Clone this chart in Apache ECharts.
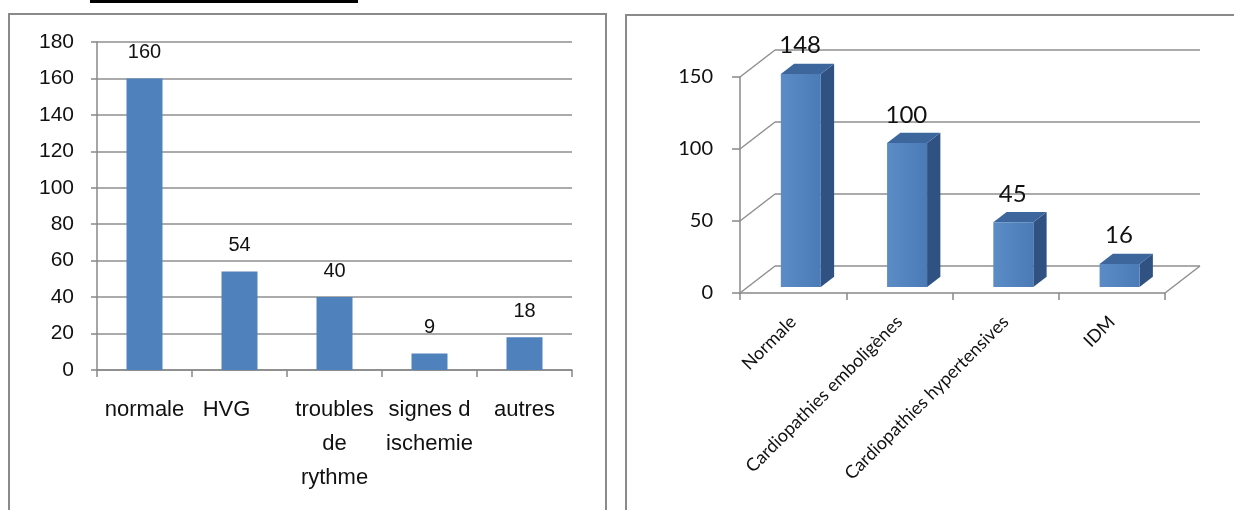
<!DOCTYPE html>
<html><head><meta charset="utf-8">
<script src="https://cdn.jsdelivr.net/npm/echarts@6/dist/echarts.min.js"></script>
<style>html,body{margin:0;padding:0;background:#fff}#c{width:1234px;height:510px}</style>
</head><body><div id="c"></div>
<script>
// ---- data ----
const leftCategories = ['normale', 'HVG', 'troubles\nde\nrythme', 'signes d\nischemie', 'autres'];
const leftValues = [160, 54, 40, 9, 18];
const leftYMin = 0, leftYMax = 180, leftYInterval = 20;

const rightCategories = ['Normale', 'Cardiopathies emboligènes', 'Cardiopathies hypertensives', 'IDM'];
const rightValues = [148, 100, 45, 16];
const rightYTicks = [0, 50, 100, 150];
const rightYMin = 0, rightYMax = 150, rightYInterval = 50;

// ---- style / geometry ----
const DX = 35, DY = -27;          // 3D depth offset of back wall
const D0 = 0.22, D1 = 0.6;        // bar depth range (fraction of depth)
const HALF = 20;                  // half width of 3D bar front face
const BLUE = '#4F81BD', SIDE = '#2F5283', TOP = '#3D679C';
const GRID_C = '#8f8f8f';
const fontL = '"Liberation Sans", Arial, sans-serif';
const fontR = 'Lato, "Open Sans", sans-serif';

const chart = echarts.init(document.getElementById('c'), null, {renderer: 'canvas'});

function renderBar3D(params, api) {
  const i = api.value(0), v = api.value(1);
  const base = api.coord([i, 0]);
  const top = api.coord([i, v]);
  const cx = base[0];
  const ox = DX * D0, oy = DY * D0;
  const bx = DX * (D1 - D0), by = DY * (D1 - D0);
  const x0 = cx + ox - HALF, x1 = cx + ox + HALF;
  const yb = base[1] + oy, yt = top[1] + oy;
  return {
    type: 'group',
    children: [
      {type: 'polygon', shape: {points: [[x1, yb], [x1 + bx, yb + by], [x1 + bx, yt + by], [x1, yt]]}, style: {fill: SIDE}},
      {type: 'polygon', shape: {points: [[x0, yt], [x1, yt], [x1 + bx, yt + by], [x0 + bx, yt + by]]}, style: {fill: TOP}},
      {type: 'rect', shape: {x: x0, y: yt, width: x1 - x0, height: yb - yt},
        style: {fill: new echarts.graphic.LinearGradient(0, 0, 1, 0, [{offset: 0, color: '#5B8CC6'}, {offset: 1, color: '#4A7BB7'}])}},
      {type: 'text', style: {text: String(v), x: cx + 7, y: yt + by - 18, align: 'center', verticalAlign: 'middle',
        font: '24px ' + fontR, fill: '#111'}}
    ]
  };
}

function renderWalls(params, api) {
  const v = api.value(1);
  const y = api.coord([0, v])[1];
  const cs = params.coordSys;
  const st = {stroke: GRID_C, lineWidth: 1.5};
  const children = [{type: 'line', shape: {x1: cs.x, y1: y, x2: cs.x + DX, y2: y + DY}, style: st}];
  if (v === 0) {
    children.push({type: 'line', shape: {x1: cs.x + cs.width, y1: y, x2: cs.x + cs.width + DX, y2: y + DY}, style: st});
  }
  return {type: 'group', children};
}

// HVG label in the original sits a little left and higher
const leftAxisData = leftCategories.map(c => c === 'HVG'
  ? {value: c, textStyle: {padding: [0, 26, 6, 0]}} : c);

const option = {
  animation: false,
  backgroundColor: '#fff',
  graphic: [
    {type: 'rect', shape: {x: 90, y: 0, width: 268, height: 3}, style: {fill: '#000'}},
    {type: 'rect', shape: {x: 9, y: 14, width: 597, height: 540}, style: {fill: 'none', stroke: '#8a8a8a', lineWidth: 2}},
    {type: 'rect', shape: {x: 626, y: 15, width: 640, height: 540}, style: {fill: 'none', stroke: '#8a8a8a', lineWidth: 2}}
  ],
  grid: [
    {left: 97, top: 42, width: 475, height: 328},
    {left: 740, top: 77, width: 425, height: 216},
    {left: 740 + DX, top: 77 + DY, width: 425, height: 216}
  ],
  xAxis: [
    {gridIndex: 0, type: 'category', data: leftAxisData,
      axisLine: {lineStyle: {color: '#888', width: 1.5}},
      axisTick: {show: true, length: 7, lineStyle: {color: '#888', width: 1.5}},
      axisLabel: {interval: 0, margin: 23, fontSize: 22, lineHeight: 34, fontFamily: fontL, color: '#111'}},
    {gridIndex: 1, type: 'category', data: rightCategories,
      axisLine: {lineStyle: {color: '#888', width: 1.5}},
      axisTick: {show: true, length: 7, lineStyle: {color: '#888', width: 1.5}},
      axisLabel: {interval: 0, rotate: 45, margin: 26, fontSize: 18, fontFamily: fontR, color: '#111'}},
    {gridIndex: 2, type: 'category', data: rightCategories, show: false}
  ],
  yAxis: [
    {gridIndex: 0, type: 'value', min: leftYMin, max: leftYMax, interval: leftYInterval,
      axisLine: {show: true, lineStyle: {color: '#888', width: 1.5}},
      axisTick: {show: true, length: 6, lineStyle: {color: '#888', width: 1.5}},
      axisLabel: {margin: 23, fontSize: 21, fontFamily: fontL, color: '#111'},
      splitLine: {show: true, lineStyle: {color: GRID_C, width: 1.5}}},
    {gridIndex: 1, type: 'value', min: rightYMin, max: rightYMax, interval: rightYInterval,
      axisLine: {show: true, lineStyle: {color: '#888', width: 1.5}},
      axisTick: {show: true, length: 8, lineStyle: {color: '#888', width: 1.5}},
      axisLabel: {margin: 27, fontSize: 20, fontFamily: fontR, color: '#111'},
      splitLine: {show: false}},
    {gridIndex: 2, type: 'value', min: rightYMin, max: rightYMax, interval: rightYInterval,
      axisLine: {show: false}, axisTick: {show: false}, axisLabel: {show: false},
      splitLine: {show: true, lineStyle: {color: GRID_C, width: 1.5}}}
  ],
  series: [
    {type: 'bar', xAxisIndex: 0, yAxisIndex: 0, data: leftValues, barWidth: 36,
      itemStyle: {color: BLUE},
      label: {show: true, position: 'top', distance: 16, fontSize: 20, fontFamily: fontL, color: '#111'}},
    {type: 'custom', xAxisIndex: 1, yAxisIndex: 1, renderItem: renderWalls,
      data: rightYTicks.map(v => [0, v]), encode: {x: 0, y: 1}, z: 1, silent: true},
    {type: 'custom', xAxisIndex: 1, yAxisIndex: 1, renderItem: renderBar3D,
      data: rightValues.map((v, i) => [i, v]), encode: {x: 0, y: 1}, z: 3}
  ]
};
chart.setOption(option);
</script>
</body></html>
